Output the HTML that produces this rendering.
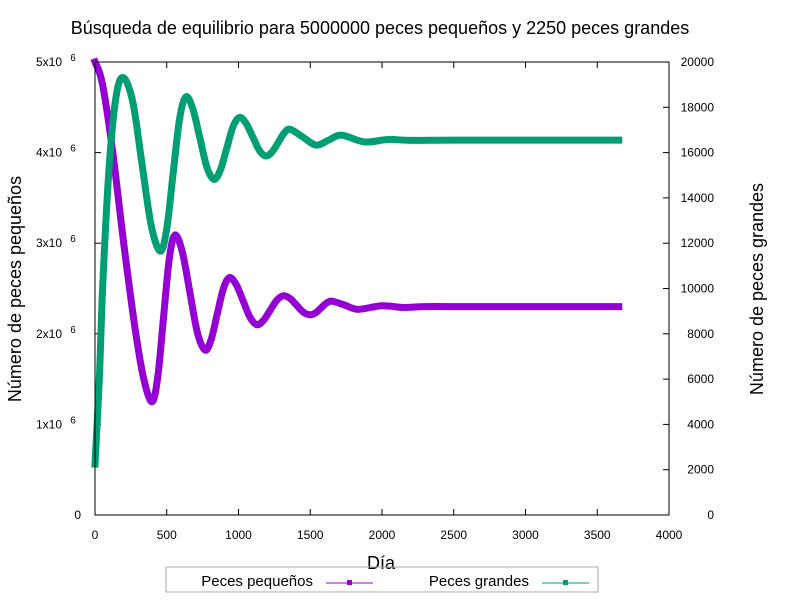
<!DOCTYPE html>
<html><head><meta charset="utf-8"><style>
body{margin:0;background:#fff;}
svg{display:block;font-family:"Liberation Sans",sans-serif;}
</style></head><body>
<svg id="chart" width="800" height="600" viewBox="0 0 800 600">
<rect width="800" height="600" fill="#fff"/>
<text x="380" y="34" font-size="18" text-anchor="middle">Búsqueda de equilibrio para 5000000 peces pequeños y 2250 peces grandes</text>
<g id="axes"></g>
<g id="series"></g>
<rect x="95" y="62" width="574" height="453" fill="none" stroke="#000" stroke-width="1"/>
<text x="381" y="569" font-size="18" text-anchor="middle">Día</text>
<text transform="translate(21,289) rotate(-90)" font-size="18" text-anchor="middle">Número de peces pequeños</text>
<text transform="translate(763,289) rotate(-90)" font-size="18" text-anchor="middle">Número de peces grandes</text>
<g>
<rect x="166" y="567" width="432" height="25" fill="none" stroke="#aaa" stroke-width="1"/>
<text x="313" y="586" font-size="15" text-anchor="end">Peces pequeños</text>
<line x1="326" y1="583" x2="373" y2="583" stroke="#9400d3" stroke-width="1"/>
<rect x="347" y="580" width="5" height="5" fill="#9400d3"/>
<text x="529" y="586" font-size="15" text-anchor="end">Peces grandes</text>
<line x1="542" y1="583" x2="589" y2="583" stroke="#009e73" stroke-width="1"/>
<rect x="563" y="580" width="5" height="5" fill="#009e73"/>
</g>
</svg>
<script>
const xTicks=[0,500,1000,1500,2000,2500,3000,3500,4000];
const yLeftTicks=[0,1,2,3,4,5];
const yRightTicks=[0,2000,4000,6000,8000,10000,12000,14000,16000,18000,20000];
const smallDays=[0,50,120,200,280,340,397,437,477,517,557,609,662,714,767,810,852,895,937,985,1033,1081,1129,1175,1221,1267,1313,1359,1405,1451,1497,1536,1575,1614,1653,1743,1833,2000,2150,2300,2600,3000,3300,3650];
const smallVals=[5.0,4.77,4.05,3.0,2.05,1.5,1.25,1.52,2.17,2.82,3.09,2.90,2.45,2.01,1.82,1.94,2.22,2.50,2.62,2.54,2.36,2.18,2.10,2.15,2.26,2.37,2.42,2.39,2.315,2.24,2.21,2.23,2.285,2.34,2.36,2.315,2.27,2.31,2.29,2.30,2.30,2.30,2.30,2.30];
const largeDays=[0,30,55,100,150,201,265,328,392,455,500,544,589,633,682,731,780,829,873,918,962,1006,1052,1099,1145,1191,1233,1276,1318,1360,1450,1540,1628,1717,1879,2040,2200,2500,3000,3300,3650];
const largeVals=[2250,6000,10300,15500,18600,19300,18180,15475,12770,11650,12640,15055,17470,18460,17930,16640,15350,14820,15220,16185,17150,17550,17300,16700,16100,15850,16020,16440,16860,17030,16680,16330,16550,16770,16470,16580,16540,16550,16550,16550,16550];
const L=95,R=669,T=62,B=515;
const xs=d=>L+(d/4000)*(R-L);
const yl=v=>B-(v/5)*(B-T);
const yr=v=>B-(v/20000)*(B-T);
const NS="http://www.w3.org/2000/svg";
const axes=document.getElementById('axes'),series=document.getElementById('series');
function mk(tag,attrs,parent){const e=document.createElementNS(NS,tag);for(const k in attrs)e.setAttribute(k,attrs[k]);parent.appendChild(e);return e;}
xTicks.forEach(t=>{const x=xs(t);
 const ln=mk('line',{x1:x,y1:B,x2:x,y2:B-6,stroke:'#000'},axes);
 
 
 const lt=mk('line',{x1:x,y1:T,x2:x,y2:T+6,stroke:'#000'},axes);
 
 
 const tx=mk('text',{x:x,y:B+24,'font-size':12,'text-anchor':'middle'},axes);tx.textContent=t;
 
 });
yLeftTicks.forEach(t=>{const y=yl(t);
 const ln=mk('line',{x1:L,y1:y,x2:L+6,y2:y,stroke:'#000'},axes);
 
 
 const tx=mk('text',{x:t===0?81:62,y:y+4,'font-size':12,'text-anchor':'end'},axes);
 
 
 if(t===0){tx.textContent='0';}else{tx.textContent=t+'x10';const s=mk('text',{x:73,y:y-1,'font-size':10,'text-anchor':'middle'},axes);s.textContent='6';
 
 }});
yRightTicks.forEach(t=>{const y=yr(t);
 const ln=mk('line',{x1:R,y1:y,x2:R-6,y2:y,stroke:'#000'},axes);
 
 
 const tx=mk('text',{x:714,y:y+4,'font-size':12,'text-anchor':'end'},axes);tx.textContent=t;
 
 });
function path(days,vals,fy){const p=days.map((d,i)=>[xs(d),fy(vals[i])]);let s='M'+p[0][0]+','+p[0][1];
 for(let i=0;i<p.length-1;i++){const p0=p[Math.max(0,i-1)],p1=p[i],p2=p[i+1],p3=p[Math.min(p.length-1,i+2)];
 const c1=[p1[0]+(p2[0]-p0[0])/6,p1[1]+(p2[1]-p0[1])/6],c2=[p2[0]-(p3[0]-p1[0])/6,p2[1]-(p3[1]-p1[1])/6];
 s+=' C'+c1[0]+','+c1[1]+' '+c2[0]+','+c2[1]+' '+p2[0]+','+p2[1];}return s;}
const ps=mk('path',{d:path(smallDays,smallVals,yl),fill:'none',stroke:'#9400d3','stroke-width':7,'stroke-linecap':'square','stroke-linejoin':'round'},series);


const pg=mk('path',{d:path(largeDays,largeVals,yr),fill:'none',stroke:'#009e73','stroke-width':7,'stroke-linecap':'square','stroke-linejoin':'round'},series);


</script>
</body></html>
